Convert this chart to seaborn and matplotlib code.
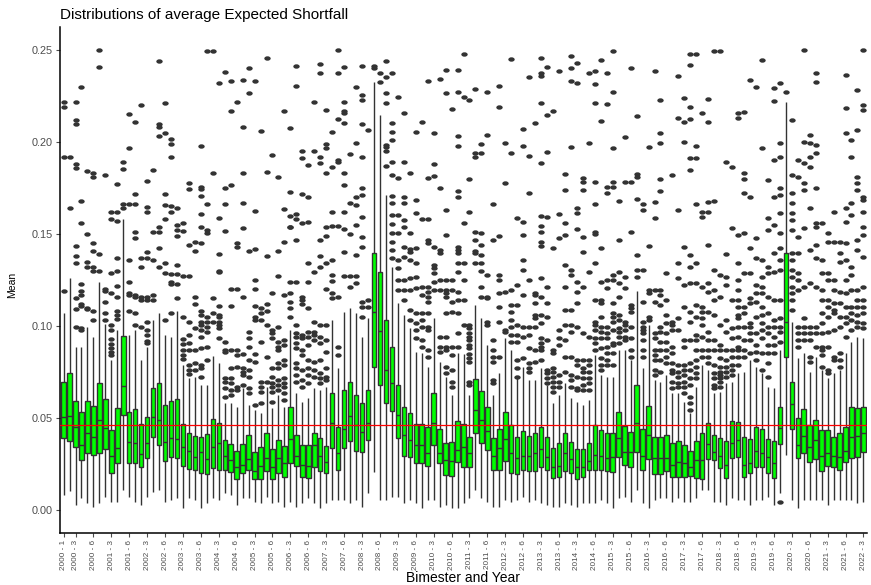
import numpy as np
import pandas as pd
import matplotlib
matplotlib.use("Agg")
import matplotlib.pyplot as plt
from matplotlib.path import Path
import seaborn as sns

# ---------------- data ----------------
periods = [f"{y} - {b}" for y in range(2000, 2023) for b in range(1, 7)][:135]
tick_labels = ["2000 - 1"] + periods[2::3]

whis_low = [
    0.0082, 0.0105, 0.0027, 0.0063, 0.0036, 0.0018, 0.0036, 0.0072, 0.0045, 0.0045,
    0.0109, 0.0072, 0.0045, 0.0027, 0.0072, 0.0100, 0.0109, 0.0045, 0.0054, 0.0063,
    0.0009, 0.0063, 0.0054, 0.0009, 0.0036, 0.0063, 0.0054, 0.0091, 0.0082, 0.0027,
    0.0063, 0.0063, 0.0045, 0.0036, 0.0072, 0.0036, 0.0045, 0.0018, 0.0045, 0.0018,
    0.0036, 0.0063, 0.0036, 0.0009, 0.0036, 0.0054, 0.0054, 0.0054, 0.0036, 0.0054,
    0.0018, 0.0091, 0.0208, 0.0054, 0.0054, 0.0072, 0.0072, 0.0036, 0.0054, 0.0036,
    0.0009, 0.0054, 0.0054, 0.0018, 0.0027, 0.0009, 0.0009, 0.0040, 0.0063, 0.0109,
    0.0063, 0.0045, 0.0018, 0.0018, 0.0054, 0.0045, 0.0054, 0.0072, 0.0045, 0.0054,
    0.0036, 0.0027, 0.0018, 0.0018, 0.0036, 0.0027, 0.0018, 0.0036, 0.0036, 0.0036,
    0.0054, 0.0036, 0.0009, 0.0063, 0.0072, 0.0045, 0.0109, 0.0036, 0.0009, 0.0054,
    0.0063, 0.0063, 0.0045, 0.0063, 0.0045, 0.0045, 0.0063, 0.0109, 0.0109, 0.0045,
    0.0045, 0.0027, 0.0063, 0.0054, 0.0054, 0.0027, 0.0054, 0.0054, 0.0072, 0.0027,
    0.0091, 0.0299, 0.0054, 0.0009, 0.0054, 0.0054, 0.0054, 0.0054, 0.0027, 0.0054,
    0.0054, 0.0054, 0.0054, 0.0036, 0.0045,
]
q1 = [
    0.0390, 0.0377, 0.0344, 0.0272, 0.0308, 0.0299, 0.0308, 0.0330, 0.0203, 0.0254,
    0.0516, 0.0257, 0.0257, 0.0232, 0.0281, 0.0399, 0.0353, 0.0266, 0.0290, 0.0281,
    0.0239, 0.0221, 0.0217, 0.0203, 0.0196, 0.0226, 0.0217, 0.0217, 0.0208, 0.0170,
    0.0203, 0.0217, 0.0167, 0.0170, 0.0212, 0.0167, 0.0203, 0.0181, 0.0257, 0.0239,
    0.0181, 0.0172, 0.0236, 0.0212, 0.0203, 0.0335, 0.0217, 0.0335, 0.0377, 0.0322,
    0.0313, 0.0380, 0.0779, 0.0679, 0.0583, 0.0540, 0.0389, 0.0293, 0.0290, 0.0257,
    0.0254, 0.0239, 0.0353, 0.0254, 0.0190, 0.0185, 0.0263, 0.0236, 0.0236, 0.0417,
    0.0366, 0.0326, 0.0217, 0.0217, 0.0266, 0.0203, 0.0196, 0.0217, 0.0214, 0.0214,
    0.0232, 0.0217, 0.0174, 0.0181, 0.0214, 0.0203, 0.0167, 0.0181, 0.0217, 0.0217,
    0.0217, 0.0214, 0.0208, 0.0290, 0.0245, 0.0232, 0.0317, 0.0217, 0.0275, 0.0196,
    0.0196, 0.0214, 0.0181, 0.0181, 0.0178, 0.0185, 0.0172, 0.0167, 0.0275, 0.0272,
    0.0226, 0.0172, 0.0281, 0.0286, 0.0181, 0.0199, 0.0232, 0.0232, 0.0199, 0.0172,
    0.0359, 0.0833, 0.0438, 0.0281, 0.0312, 0.0263, 0.0275, 0.0214, 0.0239, 0.0232,
    0.0217, 0.0263, 0.0281, 0.0290, 0.0317,
]
median = [
    0.0507, 0.0511, 0.0449, 0.0353, 0.0420, 0.0399, 0.0489, 0.0444, 0.0293, 0.0335,
    0.0674, 0.0368, 0.0362, 0.0304, 0.0362, 0.0507, 0.0489, 0.0371, 0.0393, 0.0388,
    0.0344, 0.0319, 0.0290, 0.0317, 0.0275, 0.0344, 0.0366, 0.0293, 0.0272, 0.0236,
    0.0245, 0.0279, 0.0212, 0.0239, 0.0281, 0.0232, 0.0281, 0.0254, 0.0384, 0.0293,
    0.0245, 0.0239, 0.0353, 0.0293, 0.0263, 0.0475, 0.0312, 0.0438, 0.0511, 0.0462,
    0.0426, 0.0475, 0.1078, 0.0973, 0.0761, 0.0692, 0.0516, 0.0408, 0.0380, 0.0353,
    0.0353, 0.0312, 0.0471, 0.0312, 0.0272, 0.0268, 0.0326, 0.0341, 0.0312, 0.0543,
    0.0489, 0.0429, 0.0293, 0.0335, 0.0388, 0.0308, 0.0281, 0.0293, 0.0293, 0.0312,
    0.0332, 0.0290, 0.0234, 0.0239, 0.0312, 0.0275, 0.0234, 0.0236, 0.0266, 0.0299,
    0.0293, 0.0281, 0.0290, 0.0390, 0.0317, 0.0317, 0.0471, 0.0293, 0.0408, 0.0281,
    0.0281, 0.0281, 0.0245, 0.0263, 0.0257, 0.0236, 0.0272, 0.0272, 0.0359, 0.0317,
    0.0293, 0.0245, 0.0366, 0.0380, 0.0245, 0.0254, 0.0322, 0.0308, 0.0290, 0.0254,
    0.0444, 0.1024, 0.0576, 0.0353, 0.0402, 0.0344, 0.0380, 0.0293, 0.0312, 0.0293,
    0.0290, 0.0322, 0.0395, 0.0402, 0.0420,
]
q3 = [
    0.0697, 0.0743, 0.0594, 0.0531, 0.0594, 0.0567, 0.0692, 0.0603, 0.0435, 0.0556,
    0.0947, 0.0531, 0.0547, 0.0466, 0.0507, 0.0661, 0.0692, 0.0569, 0.0594, 0.0601,
    0.0466, 0.0420, 0.0402, 0.0395, 0.0413, 0.0493, 0.0475, 0.0380, 0.0359, 0.0322,
    0.0359, 0.0408, 0.0317, 0.0340, 0.0417, 0.0331, 0.0380, 0.0350, 0.0562, 0.0408,
    0.0353, 0.0353, 0.0417, 0.0390, 0.0348, 0.0634, 0.0453, 0.0652, 0.0697, 0.0625,
    0.0583, 0.0652, 0.1399, 0.1295, 0.1033, 0.0888, 0.0679, 0.0562, 0.0525, 0.0467,
    0.0467, 0.0453, 0.0638, 0.0438, 0.0362, 0.0371, 0.0486, 0.0470, 0.0395, 0.0710,
    0.0649, 0.0562, 0.0390, 0.0438, 0.0533, 0.0462, 0.0399, 0.0431, 0.0402, 0.0417,
    0.0453, 0.0399, 0.0339, 0.0366, 0.0417, 0.0370, 0.0331, 0.0331, 0.0362, 0.0464,
    0.0435, 0.0420, 0.0417, 0.0534, 0.0457, 0.0426, 0.0679, 0.0438, 0.0567, 0.0395,
    0.0399, 0.0408, 0.0366, 0.0375, 0.0353, 0.0322, 0.0377, 0.0420, 0.0471, 0.0408,
    0.0393, 0.0377, 0.0484, 0.0480, 0.0399, 0.0384, 0.0449, 0.0438, 0.0384, 0.0377,
    0.0562, 0.1395, 0.0697, 0.0498, 0.0549, 0.0462, 0.0489, 0.0435, 0.0435, 0.0399,
    0.0417, 0.0453, 0.0558, 0.0553, 0.0558,
]
whis_high = [
    0.1070, 0.1260, 0.0888, 0.0888, 0.0996, 0.0942, 0.1240, 0.1010, 0.0815, 0.0978,
    0.1580, 0.0951, 0.0978, 0.0815, 0.0888, 0.1030, 0.1070, 0.0951, 0.0942, 0.1080,
    0.0790, 0.0720, 0.0725, 0.0679, 0.0679, 0.0837, 0.0800, 0.0580, 0.0580, 0.0562,
    0.0661, 0.0571, 0.0543, 0.0525, 0.0670, 0.0553, 0.0625, 0.0562, 0.0978, 0.0634,
    0.0589, 0.0607, 0.0661, 0.0652, 0.0670, 0.1033, 0.0770, 0.1078, 0.1096, 0.1069,
    0.0942, 0.1042, 0.2328, 0.2147, 0.1712, 0.1322, 0.1123, 0.1060, 0.0987, 0.0860,
    0.0851, 0.0779, 0.1042, 0.0806, 0.0725, 0.0625, 0.0851, 0.0850, 0.0625, 0.1114,
    0.1042, 0.0897, 0.0625, 0.0743, 0.0933, 0.0870, 0.0716, 0.0779, 0.0707, 0.0707,
    0.0770, 0.0679, 0.0580, 0.0625, 0.0688, 0.0607, 0.0589, 0.0571, 0.0598, 0.0842,
    0.0734, 0.0725, 0.0725, 0.0870, 0.0870, 0.0815, 0.1190, 0.0770, 0.1005, 0.0707,
    0.0697, 0.0734, 0.0634, 0.0634, 0.0589, 0.0525, 0.0670, 0.0788, 0.0761, 0.0634,
    0.0643, 0.0688, 0.0697, 0.0743, 0.0752, 0.0815, 0.0779, 0.0743, 0.0670, 0.0661,
    0.0870, 0.2219, 0.1024, 0.0824, 0.0851, 0.0752, 0.0833, 0.0761, 0.0720, 0.0743,
    0.0761, 0.0851, 0.0915, 0.0942, 0.0933,
]

outliers = [
    [0.119, 0.192, 0.219, 0.222],
    [0.164, 0.192],
    [0.0996, 0.109, 0.115, 0.134, 0.138, 0.1435, 0.186, 0.188, 0.210, 0.212, 0.222],
    [0.098, 0.099, 0.111, 0.112, 0.117, 0.119, 0.123, 0.156, 0.168, 0.230],
    [0.109, 0.110, 0.132, 0.135, 0.150, 0.184],
    [0.103, 0.108, 0.130, 0.132, 0.141, 0.145, 0.181, 0.183],
    [0.130, 0.139, 0.241, 0.250],
    [0.103, 0.107, 0.113, 0.119, 0.120, 0.182],
    [0.084, 0.086, 0.088, 0.090, 0.093, 0.098, 0.1005, 0.118, 0.129, 0.158, 0.162],
    [0.104, 0.106, 0.108, 0.116, 0.122, 0.130, 0.137, 0.157, 0.162, 0.177],
    [0.164, 0.1665, 0.1855, 0.189],
    [0.108, 0.117, 0.118, 0.124, 0.136, 0.1665, 0.197, 0.215],
    [0.1005, 0.107, 0.116, 0.117, 0.148, 0.151, 0.1665, 0.172, 0.211],
    [0.0996, 0.114, 0.116, 0.132, 0.137, 0.220],
    [0.091, 0.092, 0.095, 0.098, 0.102, 0.114, 0.116, 0.137, 0.140, 0.162, 0.1645, 0.179],
    [0.114, 0.117, 0.136, 0.151, 0.185],
    [0.132, 0.1426, 0.151, 0.154, 0.203, 0.208, 0.210, 0.244],
    [0.103, 0.129, 0.134, 0.158, 0.166, 0.172, 0.205, 0.221],
    [0.107, 0.123, 0.124, 0.128, 0.162, 0.165, 0.192, 0.199, 0.2016],
    [0.115, 0.123, 0.128, 0.133, 0.149, 0.152, 0.155, 0.164],
    [0.082, 0.084, 0.087, 0.090, 0.093, 0.105, 0.127, 0.1515, 0.1558],
    [0.074, 0.076, 0.079, 0.087, 0.091, 0.095, 0.102, 0.127, 0.144, 0.1746, 0.1775],
    [0.076, 0.080, 0.087, 0.099, 0.112, 0.116, 0.141, 0.1455],
    [0.0725, 0.077, 0.0788, 0.0879, 0.0942, 0.0978, 0.1005, 0.102, 0.106, 0.108, 0.1453,
     0.1536, 0.161, 0.1707, 0.1743, 0.1757, 0.198],
    [0.0815, 0.0888, 0.0969, 0.0996, 0.102, 0.105, 0.1507, 0.152, 0.1665, 0.2496],
    [0.102, 0.107, 0.115, 0.1833, 0.2496],
    [0.0933, 0.0987, 0.1005, 0.102, 0.105, 0.106, 0.111, 0.1295, 0.130, 0.139, 0.1585, 0.232],
    [0.0616, 0.0661, 0.0697, 0.0716, 0.086, 0.087, 0.0915, 0.1518, 0.1665, 0.1748, 0.2379],
    [0.0625, 0.0652, 0.0688, 0.0716, 0.077, 0.087, 0.111, 0.120, 0.1766, 0.217, 0.233],
    [0.0652, 0.067, 0.0779, 0.084, 0.087, 0.120, 0.1428, 0.1449, 0.222],
    [0.0679, 0.0734, 0.0752, 0.077, 0.085, 0.116, 0.153, 0.1667, 0.183, 0.208, 0.2337],
    [0.0634, 0.0661, 0.0725, 0.0761, 0.0815, 0.0888, 0.0933, 0.0969, 0.141, 0.2268, 0.2404],
    [0.0571, 0.0806, 0.085, 0.103, 0.105, 0.111, 0.120, 0.125, 0.142, 0.1625, 0.2332],
    [0.058, 0.0643, 0.067, 0.0697, 0.0915, 0.103, 0.107, 0.110, 0.206],
    [0.0697, 0.083, 0.1005, 0.108, 0.112, 0.138, 0.1837, 0.2457],
    [0.0589, 0.0643, 0.067, 0.0688, 0.0725, 0.077, 0.0933, 0.096, 0.0978, 0.118, 0.1928],
    [0.0652, 0.0679, 0.0707, 0.077, 0.0797, 0.087, 0.0888, 0.0915, 0.0996, 0.127, 0.141, 0.181],
    [0.0598, 0.0634, 0.067, 0.0688, 0.0716, 0.0788, 0.0815, 0.0897, 0.0924, 0.117, 0.1457,
     0.1634, 0.217],
    [0.105, 0.110, 0.113, 0.118, 0.124, 0.1536, 0.154, 0.160, 0.1726, 0.2076],
    [0.0697, 0.0734, 0.077, 0.0797, 0.0879, 0.0906, 0.0942, 0.096, 0.1005, 0.124, 0.147,
     0.158, 0.161, 0.2304, 0.2415],
    [0.067, 0.0707, 0.0761, 0.084, 0.087, 0.0933, 0.0951, 0.112, 0.114, 0.116, 0.1558,
     0.1716, 0.1915, 0.195],
    [0.0688, 0.0734, 0.077, 0.0815, 0.0897, 0.0942, 0.0969, 0.110, 0.124, 0.134, 0.1565,
     0.170, 0.1873],
    [0.0725, 0.0761, 0.0806, 0.0924, 0.0951, 0.0969, 0.102, 0.1295, 0.1951, 0.222],
    [0.0688, 0.0716, 0.0743, 0.0815, 0.0906, 0.0942, 0.1005, 0.132, 0.138, 0.147, 0.1888,
     0.192, 0.2373, 0.2422],
    [0.0707, 0.0725, 0.077, 0.086, 0.0924, 0.1005, 0.120, 0.134, 0.149, 0.1536, 0.1833,
     0.197, 0.1987, 0.2174],
    [0.115, 0.1178, 0.1246, 0.1277, 0.1359, 0.1543, 0.1621, 0.1862, 0.2056],
    [0.0842, 0.0888, 0.1156, 0.1543, 0.1893, 0.190, 0.2123, 0.2373, 0.250],
    [0.127, 0.1404, 0.1525, 0.1621, 0.1766, 0.1833, 0.2105, 0.216, 0.217, 0.222, 0.2406],
    [0.1214, 0.127, 0.150, 0.167, 0.1935],
    [0.1236, 0.1272, 0.1386, 0.155, 0.166, 0.170, 0.1996, 0.230],
    [0.1051, 0.1105, 0.1132, 0.1431, 0.1486, 0.1594, 0.1712, 0.175, 0.192, 0.210, 0.2228,
     0.2255, 0.2413],
    [0.1105, 0.1141, 0.2065],
    [0.2402, 0.2413],
    [0.2328, 0.2373],
    [0.187, 0.1953, 0.1971, 0.1984, 0.2214, 0.2268, 0.2355, 0.2442],
    [0.1368, 0.1413, 0.1458, 0.1504, 0.1553, 0.1603, 0.1667, 0.1707, 0.1821, 0.1893, 0.2011,
     0.2056, 0.2101, 0.2373],
    [0.1196, 0.125, 0.1313, 0.1359, 0.1507, 0.1603, 0.1803, 0.2246],
    [0.1141, 0.1196, 0.125, 0.1377, 0.1431, 0.154, 0.1576, 0.167, 0.1699, 0.1893, 0.2156],
    [0.1033, 0.1087, 0.1196, 0.1259, 0.1359, 0.1404, 0.1417, 0.1507, 0.183],
    [0.0933, 0.0978, 0.1014, 0.1069, 0.1205, 0.1268, 0.1341, 0.1422, 0.1612, 0.1685, 0.2056],
    [0.0888, 0.0924, 0.0996, 0.1033, 0.1069, 0.1168, 0.121, 0.158, 0.211],
    [0.0833, 0.087, 0.0978, 0.0996, 0.1069, 0.1132, 0.1159, 0.1187, 0.1214, 0.1449, 0.1467,
     0.158, 0.1803, 0.2333],
    [0.1196, 0.1241, 0.1286, 0.1313, 0.1332, 0.1431, 0.1815, 0.188, 0.2051],
    [0.086, 0.0888, 0.0942, 0.1196, 0.125, 0.1395, 0.1413, 0.1748, 0.234],
    [0.0743, 0.0779, 0.087, 0.0888, 0.0942, 0.1069, 0.1159, 0.1178, 0.1196, 0.125, 0.1495,
     0.163, 0.2268, 0.2391],
    [0.067, 0.0697, 0.0761, 0.0842, 0.0888, 0.1078, 0.1132, 0.1196, 0.125, 0.2178],
    [0.0888, 0.096, 0.1069, 0.1141, 0.1187, 0.1295, 0.1341, 0.1395, 0.1413, 0.1431, 0.1703,
     0.1736, 0.1978, 0.2033, 0.2272, 0.2391],
    [0.1005, 0.114, 0.125, 0.134, 0.1558, 0.2246, 0.2478],
    [0.0679, 0.0697, 0.0806, 0.0824, 0.085, 0.0879, 0.0897, 0.0924, 0.0942, 0.096, 0.0987,
     0.1005, 0.162, 0.1799, 0.2228],
    [0.134, 0.1395, 0.141, 0.147, 0.1513, 0.1917, 0.1938, 0.2288],
    [0.116, 0.121, 0.130, 0.134, 0.1386, 0.144, 0.1504, 0.1938, 0.1991],
    [0.1005, 0.102, 0.115, 0.116, 0.1277, 0.2036, 0.227],
    [0.0688, 0.0707, 0.0806, 0.0833, 0.087, 0.0924, 0.147, 0.1665],
    [0.0833, 0.1024, 0.1105, 0.1178, 0.125, 0.1277, 0.149, 0.219, 0.2304],
    [0.0969, 0.0978, 0.1187, 0.1775, 0.1996],
    [0.0915, 0.0951, 0.0996, 0.1033, 0.1078, 0.1114, 0.1196, 0.1938, 0.245],
    [0.0725, 0.077, 0.0815, 0.0915, 0.0951, 0.1005, 0.1114, 0.1223, 0.1585],
    [0.0824, 0.0942, 0.0996, 0.1168, 0.1304, 0.1359, 0.1496, 0.1567, 0.198, 0.207],
    [0.0752, 0.077, 0.0797, 0.0879, 0.0951, 0.0996, 0.125, 0.1721, 0.1926, 0.2355],
    [0.0806, 0.087, 0.0996, 0.1042, 0.106, 0.1123, 0.1168, 0.1178, 0.2103],
    [0.0815, 0.087, 0.0888, 0.0906, 0.0933, 0.1014, 0.106, 0.1159, 0.1259, 0.1437, 0.1455,
     0.1513, 0.1543, 0.160, 0.1884, 0.2214, 0.2359, 0.2373, 0.2458],
    [0.0688, 0.0716, 0.0743, 0.0761, 0.0924, 0.1051, 0.1123, 0.1214, 0.159, 0.1947, 0.2147, 0.241],
    [0.0643, 0.067, 0.0697, 0.0725, 0.0752, 0.077, 0.0851, 0.087, 0.1424, 0.2168],
    [0.067, 0.0697, 0.0734, 0.0897, 0.0933, 0.0978, 0.148, 0.1607, 0.2386],
    [0.0752, 0.0833, 0.0924, 0.1005, 0.1087, 0.1214, 0.1332, 0.1496, 0.156, 0.1737, 0.1828],
    [0.067, 0.0707, 0.0734, 0.0833, 0.0969, 0.1005, 0.1087, 0.1277, 0.1304, 0.1975, 0.2332,
     0.2404, 0.247],
    [0.0652, 0.0661, 0.0725, 0.0788, 0.0815, 0.0996, 0.1123, 0.1187, 0.1241, 0.1529, 0.1612,
     0.1643, 0.232, 0.243],
    [0.0652, 0.0679, 0.0716, 0.0752, 0.077, 0.0815, 0.096, 0.1214, 0.1404, 0.1482, 0.1739,
     0.178, 0.1806],
    [0.0652, 0.0688, 0.0716, 0.0752, 0.0788, 0.0815, 0.0942, 0.1295, 0.1995, 0.2373],
    [0.087, 0.0906, 0.0933, 0.0978, 0.1005, 0.1024, 0.1141, 0.134, 0.150, 0.1513, 0.1665,
     0.178, 0.2214, 0.2313, 0.2386],
    [0.0761, 0.0788, 0.0824, 0.0879, 0.0933, 0.0969, 0.0996, 0.1051, 0.1123, 0.1141, 0.1241,
     0.1426, 0.2116, 0.2446],
    [0.0788, 0.0815, 0.0851, 0.0888, 0.0933, 0.096, 0.0996, 0.1205, 0.125, 0.1725, 0.1757,
     0.2207, 0.2373],
    [0.0788, 0.0851, 0.0897, 0.0906, 0.0978, 0.1024, 0.1051, 0.1069, 0.1123, 0.125, 0.1277,
     0.1757, 0.178, 0.1966, 0.2272, 0.2495],
    [0.0906, 0.0942, 0.0969, 0.0987, 0.1033, 0.106, 0.1159, 0.1232, 0.1295, 0.1467, 0.1678],
    [0.0924, 0.0942, 0.0978, 0.1005, 0.1024, 0.1205, 0.1268, 0.1784, 0.2025],
    [0.0833, 0.087, 0.0933, 0.0996, 0.1078, 0.1096, 0.1114, 0.1513, 0.1784, 0.2404],
    [0.1268, 0.1304, 0.1386, 0.169, 0.1808, 0.1826, 0.2141],
    [0.0833, 0.087, 0.0924, 0.096, 0.0978, 0.0996, 0.1024, 0.1132, 0.1304, 0.1629, 0.1665],
    [0.103, 0.105, 0.1178, 0.1196, 0.1435, 0.1973],
    [0.0734, 0.0761, 0.0815, 0.0842, 0.087, 0.0933, 0.096, 0.1132, 0.1196, 0.1587, 0.1676, 0.2384],
    [0.0752, 0.0815, 0.087, 0.0915, 0.0969, 0.0996, 0.1114, 0.1168, 0.1196, 0.1736, 0.1801,
     0.1996, 0.2051, 0.223],
    [0.0797, 0.0833, 0.087, 0.0915, 0.096, 0.1014, 0.106, 0.1141, 0.1286],
    [0.0661, 0.0697, 0.0743, 0.0761, 0.0797, 0.0851, 0.0888, 0.0978, 0.1005, 0.1024, 0.182],
    [0.067, 0.0688, 0.0725, 0.0752, 0.0788, 0.0978, 0.1042, 0.1259, 0.134, 0.1629, 0.2129, 0.2359],
    [0.0634, 0.067, 0.0697, 0.0734, 0.0761, 0.0788, 0.0888, 0.0924, 0.1105, 0.1223, 0.1429,
     0.200, 0.2111, 0.2241],
    [0.0543, 0.058, 0.0616, 0.0679, 0.0716, 0.0761, 0.0797, 0.0924, 0.1024, 0.1078, 0.1232,
     0.1322, 0.1386, 0.1846, 0.1913, 0.2127, 0.2192, 0.2417, 0.2478],
    [0.0716, 0.0743, 0.0779, 0.0815, 0.087, 0.0924, 0.0951, 0.1051, 0.1114, 0.1232, 0.134,
     0.1665, 0.1913, 0.1978, 0.2478],
    [0.0833, 0.087, 0.0942, 0.1005, 0.1042, 0.1078, 0.1105, 0.1214, 0.1594, 0.1621, 0.2158],
    [0.0797, 0.0833, 0.087, 0.0924, 0.0969, 0.1078, 0.1187, 0.1232, 0.1438, 0.1621, 0.1676,
     0.2107, 0.2234],
    [0.0661, 0.0679, 0.0716, 0.0743, 0.0788, 0.087, 0.0924, 0.106, 0.1141, 0.1196, 0.1304,
     0.1681, 0.2496],
    [0.067, 0.0697, 0.0716, 0.0734, 0.0752, 0.0779, 0.0824, 0.087, 0.0897, 0.1005, 0.1159,
     0.1277, 0.2496],
    [0.0725, 0.0752, 0.0779, 0.0815, 0.087, 0.0969, 0.1033, 0.1223, 0.1268, 0.1391, 0.1891],
    [0.0734, 0.0761, 0.0788, 0.0833, 0.087, 0.0933, 0.0987, 0.1141, 0.1531, 0.1866],
    [0.0788, 0.0833, 0.087, 0.0888, 0.0942, 0.0996, 0.1042, 0.106, 0.1105, 0.1141, 0.1196,
     0.125, 0.1341, 0.1495, 0.2129, 0.2156],
    [0.0833, 0.087, 0.0924, 0.0996, 0.1069, 0.1105, 0.1286, 0.1504, 0.1721, 0.1797, 0.183, 0.2165],
    [0.0851, 0.0924, 0.096, 0.0996, 0.1014, 0.1123, 0.115, 0.1286, 0.1422, 0.1703, 0.2337],
    [0.0815, 0.086, 0.0897, 0.096, 0.1051, 0.1132, 0.1178, 0.1223, 0.1368, 0.1476, 0.230],
    [0.0761, 0.0851, 0.0933, 0.0978, 0.1014, 0.106, 0.1105, 0.1178, 0.1214, 0.1268, 0.1359,
     0.1966, 0.2446],
    [0.0725, 0.0797, 0.0851, 0.0897, 0.096, 0.0996, 0.1069, 0.1159, 0.1286, 0.1322, 0.1522,
     0.1585, 0.1793],
    [0.0851, 0.0897, 0.0942, 0.0996, 0.1033, 0.1141, 0.1295, 0.1395, 0.1549, 0.1703, 0.1902,
     0.2223, 0.2292],
    [0.0045, 0.0915, 0.0969, 0.0996, 0.1042, 0.1141, 0.1304, 0.1359, 0.1422, 0.1504, 0.1612,
     0.1712, 0.1748, 0.192, 0.1993, 0.2319],
    [0.2273],
    [0.1087, 0.1141, 0.1178, 0.1214, 0.1268, 0.1304, 0.1359, 0.1395, 0.1522, 0.1576, 0.1612,
     0.1667, 0.1721, 0.1821, 0.212],
    [0.0888, 0.0924, 0.096, 0.0996, 0.1196, 0.125, 0.1286, 0.1395, 0.1486, 0.1812, 0.1902],
    [0.0924, 0.096, 0.0996, 0.1042, 0.1214, 0.1531, 0.1739, 0.1775, 0.1884, 0.2002, 0.250],
    [0.0806, 0.0833, 0.0924, 0.096, 0.0996, 0.1232, 0.1413, 0.164, 0.1866, 0.192, 0.1993, 0.2038],
    [0.0888, 0.096, 0.0996, 0.1214, 0.1368, 0.144, 0.154, 0.1558, 0.1748, 0.1938, 0.1984,
     0.2328, 0.2373],
    [0.0779, 0.0842, 0.087, 0.0888, 0.096, 0.1014, 0.1069, 0.1141, 0.1196, 0.1286, 0.1359, 0.1558],
    [0.0743, 0.0761, 0.0888, 0.0969, 0.1051, 0.1105, 0.1141, 0.125, 0.1286, 0.1458, 0.1504],
    [0.0815, 0.0833, 0.0978, 0.1069, 0.1087, 0.1123, 0.1196, 0.125, 0.1458, 0.1621],
    [0.0779, 0.0815, 0.0851, 0.0996, 0.1051, 0.1123, 0.1187, 0.135, 0.1395, 0.1458],
    [0.0942, 0.1014, 0.1051, 0.1105, 0.1178, 0.125, 0.1359, 0.1449, 0.1567, 0.164, 0.2047,
     0.2183, 0.2364],
    [0.0978, 0.1033, 0.1069, 0.1105, 0.1196, 0.1277, 0.1322, 0.1603, 0.1667, 0.192, 0.2011],
    [0.0996, 0.1024, 0.106, 0.1105, 0.1141, 0.1196, 0.1413, 0.1467, 0.1739, 0.1775, 0.1812,
     0.2065, 0.2283],
    [0.0987, 0.1014, 0.1069, 0.1105, 0.1141, 0.1214, 0.1377, 0.1495, 0.154, 0.1621, 0.1685,
     0.1703, 0.2174, 0.2201, 0.250],
]

overall_mean = 0.0462

n = len(periods)
assert all(len(a) == n for a in (whis_low, q1, median, q3, whis_high, outliers)), \
    [len(a) for a in (whis_low, q1, median, q3, whis_high, outliers)]

# ---------------- tables ----------------
box_df = pd.DataFrame({
    "period": np.repeat(periods, 5),
    "value": np.column_stack([whis_low, q1, median, q3, whis_high]).ravel(),
})
out_df = pd.DataFrame({
    "period": [p for p, vals in zip(periods, outliers) for _ in vals],
    "value": [v for vals in outliers for v in vals],
})

# ---------------- plot ----------------
sns.set_theme(style="white")
plt.rcParams["font.family"] = ["Liberation Sans", "DejaVu Sans"]

fig = plt.figure(figsize=(8.71, 5.85), dpi=100)
ax = fig.add_axes([60 / 871, 52 / 585, 807 / 871, 506 / 585])

sns.boxplot(data=box_df, x="period", y="value", order=periods, whis=np.inf,
            width=0.75, color="#00FF00", saturation=1, linecolor="#333333",
            linewidth=1.0, showfliers=False, showcaps=False, ax=ax)

circ = Path.unit_circle()
ellipse = Path(circ.vertices * np.array([1.45, 1.0]), circ.codes)
sns.stripplot(data=out_df, x="period", y="value", order=periods, jitter=False,
              color="#333333", size=4.6, marker=ellipse, linewidth=0, ax=ax, zorder=3)

ax.axhline(overall_mean, color="#FF0000", linewidth=0.9, zorder=4)

ax.set_xlim(-0.6, n - 0.4)
ax.set_ylim(-0.0125, 0.2625)
yt = [0.0, 0.05, 0.10, 0.15, 0.20, 0.25]
ax.set_yticks(yt, [f"{v:.2f}" for v in yt])
ax.set_xticks([periods.index(t) for t in tick_labels], tick_labels, rotation=90)
ax.tick_params(axis="y", labelsize=7.8, colors="#4D4D4D", length=3, width=0.8,
               left=True, pad=2)
ax.tick_params(axis="x", labelsize=5.9, colors="#4D4D4D", length=3, width=0.8,
               bottom=True, pad=2)
ax.set_xlabel("")
ax.set_ylabel("")
for side in ("top", "right"):
    ax.spines[side].set_visible(False)
for side in ("left", "bottom"):
    ax.spines[side].set_color("black")
    ax.spines[side].set_linewidth(1.1)
ax.grid(False)

fig.text(60 / 871, 1 - 15 / 585, "Distributions of average Expected Shortfall",
         fontsize=11, ha="left", va="center", color="black")
fig.text(463 / 871, 1 - 578 / 585, "Bimester and Year", fontsize=10,
         ha="center", va="center", color="black")
fig.text(12 / 871, 1 - 285 / 585, "Mean", fontsize=7.5, rotation=90,
         ha="center", va="center", color="black")

fig.savefig("out.png", dpi=100)
